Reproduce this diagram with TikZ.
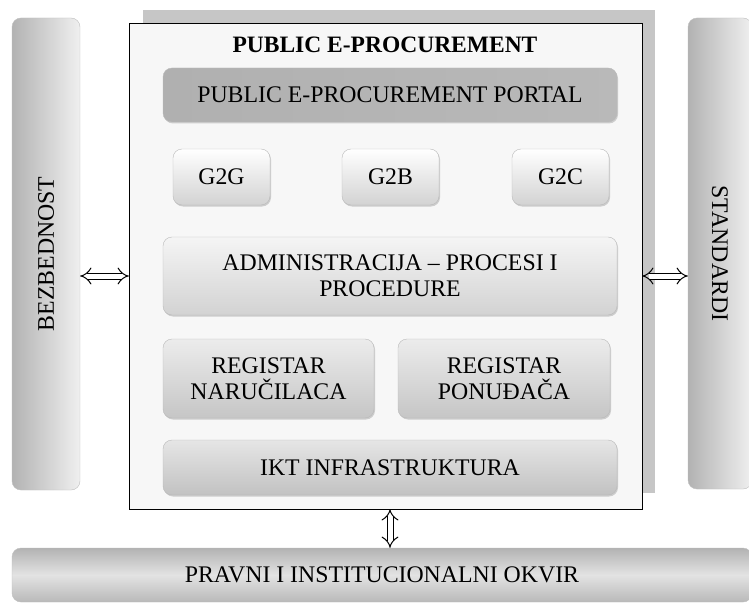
\documentclass[tikz,border=0pt]{standalone}
\usepackage{fontspec}
\setmainfont{Liberation Serif}
\usetikzlibrary{positioning, arrows.meta, shadows}

\begin{document}
\begin{tikzpicture}[x=1pt,y=-1pt,
   font=\fontsize{23.8}{26}\selectfont,
   box/.style={rounded corners=9pt, draw=gray!55, thin, align=center,
      inner sep=0pt, drop shadow={shadow xshift=1pt, shadow yshift=-1.5pt, opacity=.35}},
   bar/.style={rounded corners=9pt, draw=gray!50, thin, inner sep=0pt,
      left color=gray!60, right color=gray!12},
   dbl/.style={double, double distance=5pt, line width=1pt, {Implies}-{Implies}}] 
   \clip (0,0) rectangle (749,604);
   \fill[white] (0,0) rectangle (749,604);
   % side and bottom bars
   \node[bar, minimum width=68, minimum height=472] (bez) at (46,254) {\rotatebox{90}{BEZBEDNOST}};
   \node[bar, minimum width=64, minimum height=471] (std) at (720,253.5) {\rotatebox{-90}{STANDARDI}};
   \node[bar, minimum width=740, minimum height=54, top color=gray!60, bottom color=gray!55,
      middle color=gray!22] (pik) at (382,575) {PRAVNI I INSTITUCIONALNI OKVIR};
   % main frame
   \fill[gray!45] (143,10) rectangle (655,493);
   \node[draw, thin, fill=gray!6, minimum width=513, minimum height=486] (main) at (385.5,266) {};
   \node[font=\fontsize{23.5}{26}\selectfont\bfseries] (title) at (385,45) {PUBLIC E-PROCUREMENT};
   \node[box, minimum width=454, minimum height=54, left color=gray!62, middle color=gray!28,
      right color=gray!55] (portal) at (390,95) {PUBLIC E-PROCUREMENT PORTAL};
   \node[box, minimum width=97, minimum height=56, top color=white, bottom color=gray!35] (g2g) at (221.5,177) {G2G};
   \node[box, minimum width=97, minimum height=56, top color=white, bottom color=gray!35] (g2b) at (390.5,177) {G2B};
   \node[box, minimum width=97, minimum height=56, top color=white, bottom color=gray!35] (g2c) at (560.5,177) {G2C};
   \node[box, minimum width=454, minimum height=78, top color=gray!8, bottom color=gray!35] (adm) at (390,276)
      {ADMINISTRACIJA -- PROCESI I\\PROCEDURE};
   \node[box, minimum width=211, minimum height=79, top color=gray!15, bottom color=gray!45] (rn) at (268.5,378.5)
      {REGISTAR\\NARUČILACA};
   \node[box, minimum width=212, minimum height=79, top color=gray!15, bottom color=gray!45] (rp) at (504,378.5)
      {REGISTAR\\PONUĐAČA};
   \node[box, minimum width=454, minimum height=55, top color=gray!20, bottom color=gray!48] (ikt) at (390,467.5)
      {IKT INFRASTRUKTURA};
   % links
   \draw[dbl] (bez.east |- adm.west) -- (main.west |- adm.west);
   \draw[dbl] (main.east |- adm.east) -- (std.west |- adm.east);
   \draw[dbl] (ikt.center |- main.south) -- (ikt.center |- pik.north);
\end{tikzpicture}
\end{document}
